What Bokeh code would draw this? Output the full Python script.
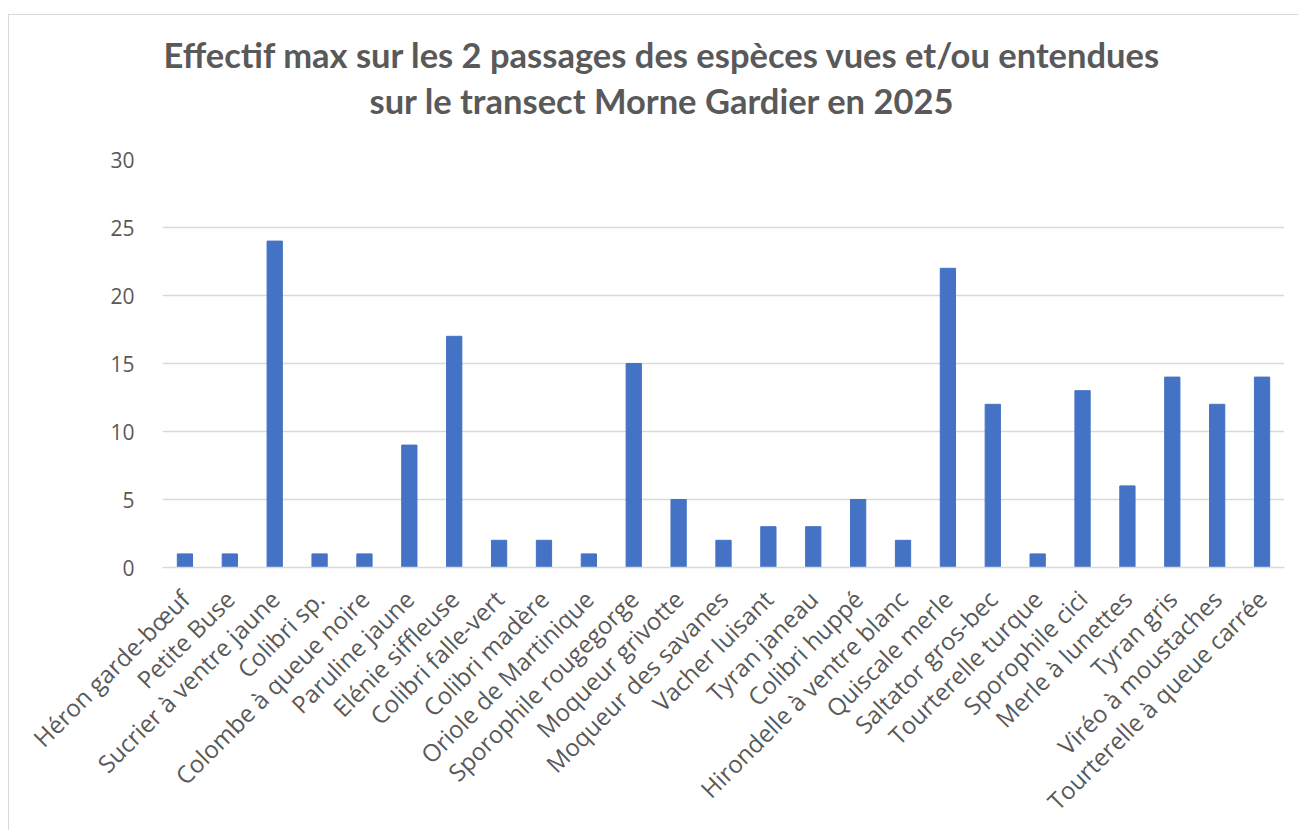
import math
from bokeh.plotting import figure
from bokeh.models import FactorRange, Range1d, FixedTicker, Title
from bokeh.embed import file_html
from bokeh.resources import INLINE

species = ["Héron garde-bœuf", "Petite Buse", "Sucrier à ventre jaune", "Colibri sp.",
           "Colombe à queue noire", "Paruline jaune", "Elénie siffleuse", "Colibri falle-vert",
           "Colibri madère", "Oriole de Martinique", "Sporophile rougegorge", "Moqueur grivotte",
           "Moqueur des savanes", "Vacher luisant", "Tyran janeau", "Colibri huppé",
           "Hirondelle à ventre blanc", "Quiscale merle", "Saltator gros-bec", "Tourterelle turque",
           "Sporophile cici", "Merle à lunettes", "Tyran gris", "Viréo à moustaches",
           "Tourterelle à queue carrée"]
effectif = [1, 1, 24, 1, 1, 9, 17, 2, 2, 1, 15, 5, 2, 3, 3, 5, 2, 22, 12, 1, 13, 6, 14, 12, 14]
y_ticks = [0, 5, 10, 15, 20, 25, 30]
title_line1 = "Effectif max sur les 2 passages des espèces vues et/ou entendues"
title_line2 = "sur le transect  Morne Gardier en 2025"

TFONT = "Lato"
FONT = "Open Sans"
GRAY = "#595959"

p = figure(width=1290, height=816, x_range=FactorRange(*species), y_range=Range1d(0, 30),
           output_backend="svg", toolbar_location=None,
           min_border_left=153, min_border_right=15, min_border_top=144, min_border_bottom=262)
p.title = None

# spacer between plot area and title, then the two title lines (closest first)
p.add_layout(Title(text=" ", text_font_size="10px", standoff=23), "above")
p.add_layout(Title(text=title_line2, align="left", offset=207, text_font=TFONT,
                   text_font_size="34.5px", text_font_style="bold", text_color=GRAY,
                   standoff=6), "above")
p.add_layout(Title(text=title_line1, align="left", offset=1, text_font=TFONT,
                   text_font_size="34.5px", text_font_style="bold", text_color=GRAY,
                   standoff=0), "above")

p.vbar(x=species, top=effectif, width=0.34, color="#4472C4")

p.outline_line_color = None
p.xgrid.grid_line_color = None
p.ygrid.grid_line_color = "#d9d9d9"
p.ygrid.grid_line_width = 1.3
p.yaxis.ticker = FixedTicker(ticks=y_ticks)
p.yaxis.axis_line_color = None
p.yaxis.major_tick_line_color = None
p.yaxis.minor_tick_line_color = None
p.yaxis.major_label_text_font = FONT
p.yaxis.major_label_text_font_size = "21px"
p.yaxis.major_label_text_color = GRAY
p.yaxis.major_label_standoff = 22

p.xaxis.axis_line_color = "#d9d9d9"
p.xaxis.axis_line_width = 1.3
p.xaxis.major_tick_line_color = None
p.xaxis.minor_tick_line_color = None
p.xaxis.major_label_orientation = math.pi / 4
p.xaxis.major_label_text_font = FONT
p.xaxis.major_label_text_font_size = "24px"
p.xaxis.major_label_text_color = GRAY
p.xaxis.major_label_standoff = 21
p.styles = {"margin-left": "8px", "margin-top": "14px",
            "border-left": "1px solid #d9d9d9", "border-top": "1px solid #d9d9d9"}

open("out.html", "w").write(file_html(p, INLINE))
